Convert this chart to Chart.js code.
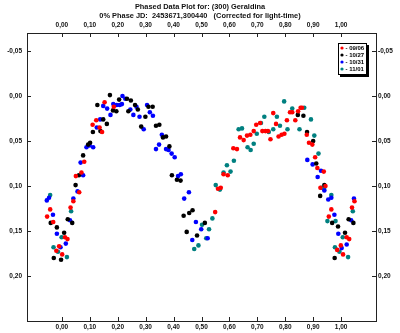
<!DOCTYPE html>
<html>
<head>
<meta charset="utf-8">
<script src="https://cdn.jsdelivr.net/npm/chart.js@4.4.0/dist/chart.umd.min.js"></script>
<style>
  html, body { margin: 0; padding: 0; background: #fff; }
  #grafico { display: block; }
</style>
</head>
<body>
<canvas id="grafico" width="400" height="333"></canvas>
<script>
// fase, magnitud diferencial por noche
const noche_0906 = [
    [-0.042, 0.126], [-0.053, 0.134], [-0.031, 0.140], [0.011, 0.157], [0.020, 0.159], [-0.010, 0.167],
    [-0.020, 0.172], [0.001, 0.176], [0.031, 0.124], [0.041, 0.117], [0.062, 0.107], [0.050, 0.089],
    [0.070, 0.085], [0.080, 0.073], [0.110, 0.032], [0.123, 0.027], [0.135, 0.035], [0.144, 0.040],
    [0.153, 0.007], [0.186, 0.012],
    [0.549, 0.129], [0.559, 0.103], [0.569, 0.102], [0.579, 0.087], [0.594, 0.088], [0.614, 0.058],
    [0.627, 0.059], [0.638, 0.046], [0.651, 0.049], [0.663, 0.044], [0.675, 0.043], [0.687, 0.039],
    [0.696, 0.032], [0.710, 0.030], [0.757, 0.019], [0.767, 0.031], [0.718, 0.039], [0.729, 0.039],
    [0.738, 0.039], [0.747, 0.048], [0.776, 0.045], [0.787, 0.043], [0.797, 0.042], [0.806, 0.027],
    [0.817, 0.018], [0.825, 0.018], [0.846, 0.017], [0.855, 0.013], [0.860, 0.013], [0.836, 0.027],
    [0.877, 0.043], [0.885, 0.052], [0.897, 0.054], [0.907, 0.068], [0.915, 0.080], [0.938, 0.084],
    [0.926, 0.102], [0.944, 0.100], [0.965, 0.126], [0.956, 0.134], [1.020, 0.157], [1.029, 0.159],
    [0.999, 0.166], [0.986, 0.171], [1.007, 0.176], [1.048, 0.117], [1.039, 0.124]
];
const noche_1027 = [
    [-0.040, 0.141], [-0.018, 0.146], [0.008, 0.152], [-0.029, 0.180], [-0.003, 0.182], [0.021, 0.137],
    [0.037, 0.141], [0.049, 0.099], [0.061, 0.088], [0.076, 0.066], [0.094, 0.054], [0.101, 0.052],
    [0.111, 0.040], [0.148, 0.026], [0.161, 0.031], [0.138, 0.039], [0.127, 0.010], [0.172, -0.001],
    [0.183, 0.016], [0.195, 0.017], [0.233, 0.003], [0.205, 0.004], [0.238, 0.017], [0.247, 0.005],
    [0.262, 0.010], [0.272, 0.015], [0.299, 0.023], [0.310, 0.012], [0.325, 0.012], [0.284, 0.034],
    [0.337, 0.033], [0.349, 0.032], [0.362, 0.046], [0.373, 0.045], [0.385, 0.056], [0.394, 0.088],
    [0.412, 0.093], [0.425, 0.094], [0.468, 0.127], [0.456, 0.130], [0.436, 0.133], [0.447, 0.151],
    [0.512, 0.141], [0.484, 0.155],
    [0.845, 0.021], [0.865, 0.022], [0.878, 0.040], [0.900, 0.050], [0.911, 0.075], [0.940, 0.099],
    [0.925, 0.111], [0.968, 0.141], [0.989, 0.145], [1.014, 0.152], [0.977, 0.180], [1.027, 0.137],
    [1.044, 0.141]
];
const noche_1031 = [
    [-0.046, 0.113], [-0.054, 0.116], [-0.032, 0.132], [-0.018, 0.153], [0.014, 0.164], [-0.005, 0.168],
    [0.029, 0.138], [0.041, 0.114], [0.056, 0.106], [0.076, 0.088], [0.067, 0.074], [0.088, 0.057],
    [0.099, 0.055], [0.112, 0.057], [0.137, 0.026], [0.125, 0.035], [0.148, 0.011], [0.162, 0.014],
    [0.184, 0.009], [0.174, 0.021], [0.196, 0.010], [0.207, 0.010], [0.215, 0.009], [0.217, 0.000],
    [0.227, 0.003], [0.245, 0.015], [0.267, 0.012], [0.256, 0.021], [0.278, 0.023], [0.305, 0.010],
    [0.315, 0.018], [0.326, 0.022], [0.293, 0.037], [0.358, 0.043], [0.348, 0.054], [0.337, 0.059],
    [0.373, 0.059], [0.382, 0.060], [0.393, 0.064], [0.404, 0.068], [0.416, 0.089], [0.426, 0.087],
    [0.455, 0.107], [0.438, 0.114], [0.480, 0.140], [0.499, 0.148], [0.467, 0.160], [0.522, 0.158],
    [0.879, 0.071], [0.898, 0.076], [0.928, 0.083], [0.916, 0.090], [0.940, 0.105], [0.954, 0.115],
    [0.965, 0.113], [0.976, 0.132], [0.990, 0.153], [1.020, 0.165], [1.002, 0.169], [1.046, 0.114],
    [1.036, 0.138]
];
const noche_1101 = [
    [-0.042, 0.110], [-0.001, 0.157], [-0.030, 0.168], [-0.014, 0.173], [0.018, 0.179], [0.033, 0.128],
    [0.502, 0.143], [0.527, 0.148], [0.517, 0.158], [0.489, 0.166], [0.474, 0.170], [0.539, 0.136],
    [0.551, 0.099], [0.566, 0.104], [0.579, 0.085], [0.604, 0.084], [0.591, 0.077], [0.616, 0.072],
    [0.633, 0.037], [0.645, 0.036], [0.698, 0.042], [0.713, 0.030], [0.725, 0.023], [0.770, 0.023],
    [0.781, 0.033], [0.757, 0.037], [0.741, 0.040], [0.808, 0.037], [0.665, 0.057], [0.676, 0.060],
    [0.687, 0.053], [0.796, 0.006], [0.825, 0.014], [0.868, 0.013], [0.892, 0.026], [0.851, 0.037],
    [0.904, 0.044], [0.919, 0.064], [0.929, 0.102], [0.939, 0.103], [0.965, 0.110], [0.951, 0.139],
    [0.980, 0.139], [1.006, 0.157], [0.978, 0.168], [0.994, 0.173], [1.025, 0.179], [1.042, 0.128]
];

const noches = ['09/06', '10/27', '10/31', '11/01'];
const colores = ['#ff0000', '#000000', '#0000ff', '#008080'];
const ticks_fase = [0.0, 0.1, 0.2, 0.3, 0.4, 0.5, 0.6, 0.7, 0.8, 0.9, 1.0];
const ticks_mag = [-0.05, 0.0, 0.05, 0.10, 0.15, 0.20];
const titulo = [
    'Phased Data Plot for: (300) Geraldina',
    '0% Phase JD:  2453671,300440   (Corrected for light-time)'
];

function formato(v) {
    return v.toFixed(2).replace('.', ',');
}

// marco, marcas hacia dentro y leyenda
const marco = {
    id: 'marco',
    afterDraw(chart) {
        const ctx = chart.ctx;
        const a = chart.chartArea;
        const sx = chart.scales.x;
        const sy = chart.scales.y;
        ctx.save();
        ctx.strokeStyle = '#222';
        ctx.lineWidth = 1;
        ctx.strokeRect(Math.round(a.left) + 0.5, Math.round(a.top) + 0.5,
                       Math.round(a.right - a.left), Math.round(a.bottom - a.top));
        ctx.beginPath();
        sx.ticks.forEach(t => {
            const px = Math.round(sx.getPixelForValue(t.value)) + 0.5;
            ctx.moveTo(px, a.bottom); ctx.lineTo(px, a.bottom - 4);
            ctx.moveTo(px, a.top); ctx.lineTo(px, a.top + 4);
        });
        sy.ticks.forEach(t => {
            const py = Math.round(sy.getPixelForValue(t.value)) + 0.5;
            ctx.moveTo(a.left, py); ctx.lineTo(a.left + 4, py);
            ctx.moveTo(a.right, py); ctx.lineTo(a.right - 4, py);
        });
        ctx.stroke();

        // leyenda
        const lx = Math.round(a.right) - 38;
        const ly = Math.round(a.top) + 10;
        const w = 29, h = 32;
        ctx.fillStyle = '#000';
        ctx.fillRect(lx + 2, ly + 2, w, h);
        ctx.fillStyle = '#fff';
        ctx.fillRect(lx, ly, w, h);
        ctx.strokeStyle = '#000';
        ctx.strokeRect(lx + 0.5, ly + 0.5, w - 1, h - 1);
        ctx.font = 'bold 6px "Liberation Sans", Arial, sans-serif';
        ctx.textBaseline = 'middle';
        chart.data.datasets.forEach((ds, i) => {
            const y = ly + 5 + i * 7;
            ctx.fillStyle = ds.backgroundColor;
            ctx.beginPath();
            ctx.arc(lx + 4, y, 1.6, 0, Math.PI * 2);
            ctx.fill();
            ctx.fillStyle = '#000';
            ctx.fillText('- ' + ds.label, lx + 7.5, y);
        });
        ctx.restore();
    }
};

document.addEventListener('DOMContentLoaded', function() {
    const canva = document.getElementById('grafico');
    const fuenteTicks = { family: '"Liberation Sans", Arial, sans-serif', size: 6.5, weight: 'bold' };
    const series = [noche_0906, noche_1027, noche_1031, noche_1101];

    const ejeX = (posicion, alto, relleno) => ({
        type: 'linear',
        position: posicion,
        min: -0.125,
        max: 1.125,
        afterBuildTicks: s => { s.ticks = ticks_fase.map(v => ({ value: v })); },
        afterFit: s => { s.height = alto; },
        grid: { display: false, drawTicks: false },
        border: { display: false },
        ticks: { font: fuenteTicks, color: '#111', padding: relleno, maxRotation: 0, callback: v => formato(v) }
    });
    const ejeY = (posicion, ancho, relleno) => ({
        type: 'linear',
        position: posicion,
        reverse: true,
        min: -0.07,
        max: 0.25,
        afterBuildTicks: s => { s.ticks = ticks_mag.map(v => ({ value: v })); },
        afterFit: s => { s.width = ancho; },
        grid: { display: false, drawTicks: false },
        border: { display: false },
        ticks: { font: fuenteTicks, color: '#111', padding: relleno, callback: v => formato(v) }
    });

    new Chart(canva, {
        type: 'scatter',
        data: {
            datasets: series.map((serie, i) => ({
                label: noches[i],
                data: serie.map(p => ({ x: p[0], y: p[1] })),
                backgroundColor: colores[i],
                borderWidth: 0,
                pointRadius: 2.3
            }))
        },
        options: {
            responsive: false,
            animation: false,
            layout: { padding: 0 },
            scales: {
                x: ejeX('bottom', 12, 2.5),
                x2: ejeX('top', 13, 4),
                y: ejeY('left', 27, 5),
                y2: ejeY('right', 24, 2)
            },
            plugins: {
                legend: { display: false },
                tooltip: { enabled: false },
                title: {
                    display: true,
                    text: titulo,
                    color: '#111',
                    font: { family: '"Liberation Sans", Arial, sans-serif', size: 7.4, weight: 'bold', lineHeight: '9px' },
                    padding: { top: 2, bottom: 0 }
                }
            }
        },
        plugins: [marco]
    });
});
</script>
</body>
</html>
